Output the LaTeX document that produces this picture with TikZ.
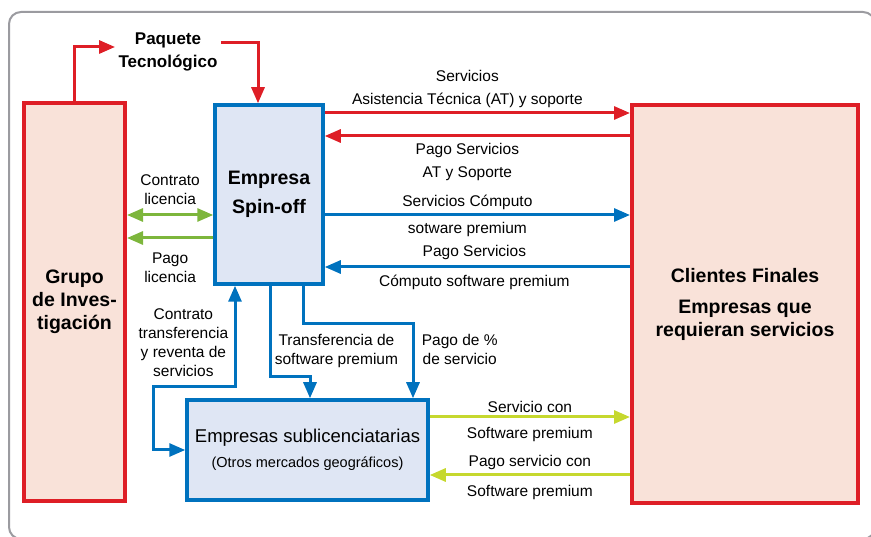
\documentclass[tikz,border=0pt]{standalone}
\usepackage{fontspec}
\setmainfont{Liberation Sans}
\usepackage{xcolor}
\usetikzlibrary{arrows.meta,positioning}

\definecolor{redline}{RGB}{222,30,38}
\definecolor{blueline}{RGB}{0,114,190}
\definecolor{greenline}{RGB}{125,182,60}
\definecolor{limeline}{RGB}{198,216,46}
\definecolor{pinkfill}{RGB}{249,226,217}
\definecolor{bluefill}{RGB}{223,230,244}
\definecolor{framegray}{RGB}{155,155,160}

\begin{document}
\begin{tikzpicture}[x=1pt, y=-1pt, >={Triangle[length=16pt,width=13pt]}]
    % Define styles
    \tikzstyle{redbox} = [rectangle, draw=redline, line width=4pt, fill=pinkfill, minimum width=101pt, minimum height=398pt, align=center, font=\fontsize{19.5}{23}\selectfont\bfseries]
    \tikzstyle{bluebox} = [rectangle, draw=blueline, line width=3.5pt, fill=bluefill, align=center]
    \tikzstyle{lbl} = [align=center, font=\fontsize{15.5}{19}\selectfont]
    \tikzstyle{redarrow} = [draw=redline, line width=3pt, ->]
    \tikzstyle{bluearrow} = [draw=blueline, line width=3pt]
    \tikzstyle{greenarrow} = [draw=greenline, line width=3pt]
    \tikzstyle{limearrow} = [draw=limeline, line width=3pt, ->]

    \useasboundingbox (0,0) rectangle (871,537);
    \draw[framegray, line width=2pt, rounded corners=12pt] (9,12) rectangle (875,539);

    % Nodes
    \node[redbox] (grupo) at (74.5,302) {Grupo\\ de Inves-\\ tigación};
    \node[bluebox, minimum width=108pt, minimum height=179pt, font=\fontsize{19.5}{23}\selectfont\bfseries] (spin) at (269,194.5) {Empresa\\[6pt] Spin-off};
    \node[redbox, minimum width=226pt] (clientes) at (745,304) {Clientes Finales\\[8pt] Empresas que\\ requieran servicios};
    \node[bluebox, minimum width=241pt, minimum height=100pt, font=\fontsize{18.5}{21}\selectfont] (subl) at (307.5,450) {Empresas sublicenciatarias\\[4pt] {\fontsize{14.5}{17}\selectfont (Otros mercados geográficos)}};
    \node[align=center, font=\fontsize{17}{23}\selectfont\bfseries] (paquete) at (168,51.5) {Paquete\\ Tecnológico};

    % Connections
    \draw[redarrow] (grupo.north) |- ([yshift=4.5pt]paquete.west);
    \draw[redarrow] ([yshift=8.5pt]paquete.east) -| ([xshift=-11pt]spin.north);

    \draw[redarrow] (spin.east |- 0,113) -- node[lbl, above, xshift=-10pt] {Servicios\\[4pt] Asistencia Técnica (AT) y soporte} (clientes.west |- 0,113);
    \draw[redarrow] (clientes.west |- 0,136) -- node[lbl, below=2pt, xshift=-10pt] {Pago Servicios\\[4pt] AT y Soporte} (spin.east |- 0,136);
    \draw[bluearrow, ->] (spin.east |- 0,215) -- node[lbl, above, xshift=-10pt] {Servicios Cómputo} node[lbl, below=2pt, xshift=-10pt] {sotware premium} (clientes.west |- 0,215);
    \draw[bluearrow, ->] (clientes.west |- 0,267) -- node[lbl, above=2pt, xshift=-3pt] {Pago Servicios} node[lbl, below=3pt, xshift=-3pt] {Cómputo software premium} (spin.east |- 0,267);

    \draw[greenarrow, <->] (grupo.east |- 0,215) -- node[lbl, above=6pt] {Contrato\\ licencia} (spin.west |- 0,215);
    \draw[greenarrow, ->] (spin.west |- 0,238) -- node[lbl, below=10pt] {Pago\\ licencia} (grupo.east |- 0,238);

    \draw[bluearrow, <->] ([xshift=-34pt]spin.south) -- node[lbl, left=2pt, pos=0.56] {Contrato\\ transferencia\\ y reventa de\\ servicios} ++(0,101) -| ([xshift=-32pt]subl.west) -- (subl.west);
    \draw[bluearrow, ->] ([xshift=1pt]spin.south) -- node[lbl, right=0pt, pos=0.72] {Transferencia de\\ software premium} ++(0,91) -| ([xshift=2.5pt]subl.north);
    \draw[bluearrow, ->] ([xshift=34pt]spin.south) -- ++(0,38) -| node[lbl, right=4pt, pos=0.67] {Pago de \%\\ de servicio} ([xshift=105.5pt]subl.north);

    \draw[limearrow] (subl.east |- 0,417) -- node[lbl, above] {Servicio con} node[lbl, below=5pt] {Software premium} (clientes.west |- 0,417);
    \draw[limearrow] (clientes.west |- 0,475) -- node[lbl, above] {Pago servicio con} node[lbl, below=5pt] {Software premium} (subl.east |- 0,475);
\end{tikzpicture}
\end{document}
